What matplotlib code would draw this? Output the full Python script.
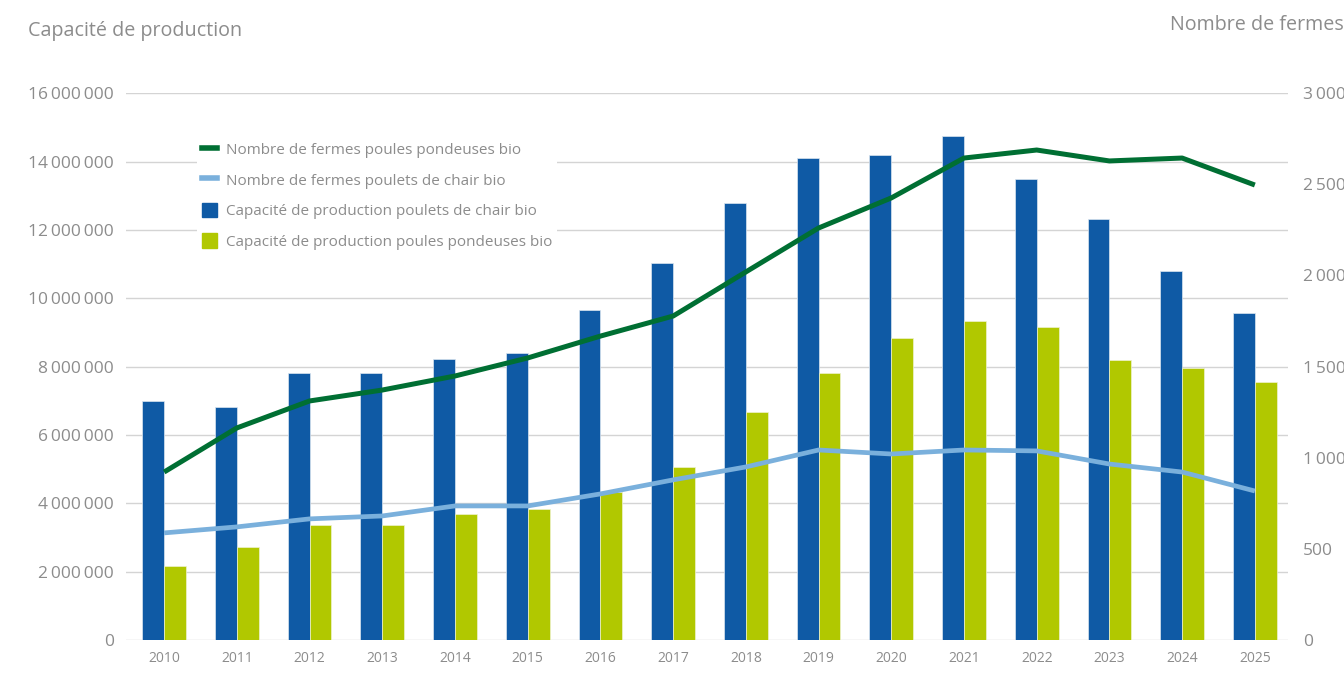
import numpy as np
import matplotlib.pyplot as plt
from matplotlib.ticker import FuncFormatter
from matplotlib.patches import Patch
from matplotlib.lines import Line2D

plt.rcParams['font.family'] = ['Open Sans', 'DejaVu Sans']

# données
annees = [str(a) for a in range(2010, 2026)]
capa_chair = [7.0e6, 6.82e6, 7.8e6, 7.8e6, 8.22e6, 8.39e6, 9.65e6, 11.02e6,
              12.8e6, 14.09e6, 14.18e6, 14.74e6, 13.5e6, 12.32e6, 10.79e6, 9.58e6]
capa_pondeuses = [2.16e6, 2.72e6, 3.36e6, 3.36e6, 3.68e6, 3.83e6, 4.33e6, 5.06e6,
                  6.67e6, 7.81e6, 8.83e6, 9.33e6, 9.15e6, 8.19e6, 7.95e6, 7.54e6]
fermes_pondeuses = [921, 1163, 1311, 1371, 1448, 1547, 1667, 1777,
                    2019, 2260, 2425, 2644, 2688, 2628, 2644, 2496]
fermes_chair = [587, 620, 664, 680, 735, 735, 801, 878,
                949, 1042, 1020, 1042, 1037, 965, 921, 817]

bleu = '#0f5aa5'
vert_clair = '#b1c800'
vert_fonce = '#006f33'
bleu_clair = '#7ab0dc'
gris = '#8c8c8c'

fig = plt.figure(figsize=(13.44, 6.8), dpi=100)
ax = fig.add_axes([0.094, 0.059, 0.864, 0.804])
ax2 = ax.twinx()

x = np.arange(len(annees))
w = 0.3
ax.bar(x - w / 2, capa_chair, w, color=bleu, edgecolor='#dce6f0', linewidth=0.5, zorder=2)
ax.bar(x + w / 2, capa_pondeuses, w, color=vert_clair, edgecolor='#eef2d0', linewidth=0.5, zorder=2)

ax2.plot(x, fermes_pondeuses, color=vert_fonce, lw=3.6, solid_capstyle='butt', zorder=3)
ax2.plot(x, fermes_chair, color=bleu_clair, lw=3.4, solid_capstyle='butt', zorder=3)

ax.set_ylim(0, 16e6)
ax.set_yticks(np.arange(0, 16e6 + 1, 2e6))
ax2.set_ylim(0, 3000)
ax2.set_yticks(np.arange(0, 3001, 500))
ax.set_xlim(-0.52, 15.45)
ax.set_xticks(x)
ax.set_xticklabels(annees)

def fmt(v, pos):
    return '{:,.0f}'.format(v).replace(',', '\u2009')

ax.yaxis.set_major_formatter(FuncFormatter(fmt))
ax2.yaxis.set_major_formatter(FuncFormatter(fmt))

ax.grid(axis='y', color='#d4d4d4', lw=1, zorder=0)
ax.set_axisbelow(True)
for a in (ax, ax2):
    for s in a.spines.values():
        s.set_visible(False)
    a.tick_params(length=0, colors=gris)
ax.tick_params(axis='y', labelsize=12.5, pad=9)
ax2.tick_params(axis='y', labelsize=12.5, pad=11)
ax.tick_params(axis='x', labelsize=10, pad=8)

fig.text(0.021, 0.955, 'Capacité de production', fontsize=14.2, color=gris, va='center')
fig.text(1.0, 0.963, 'Nombre de fermes', fontsize=14.2, color=gris, va='center', ha='right')

handles = [Line2D([], [], color=vert_fonce, lw=4),
           Line2D([], [], color=bleu_clair, lw=4),
           Patch(color=bleu),
           Patch(color=vert_clair)]
labels = ['Nombre de fermes poules pondeuses bio',
          'Nombre de fermes poulets de chair bio',
          'Capacité de production poulets de chair bio',
          'Capacité de production poules pondeuses bio']
leg = ax2.legend(handles, labels, loc='upper left', bbox_to_anchor=(0.141, 0.81),
                 bbox_transform=fig.transFigure, frameon=True, facecolor='white',
                 edgecolor='none', framealpha=1, fancybox=False, fontsize=11,
                 handlelength=1.0, handleheight=1.1, handletextpad=0.6,
                 labelspacing=0.92, borderpad=0.3)
for t in leg.get_texts():
    t.set_color(gris)

fig.savefig('out.png', dpi=100, facecolor='white')
